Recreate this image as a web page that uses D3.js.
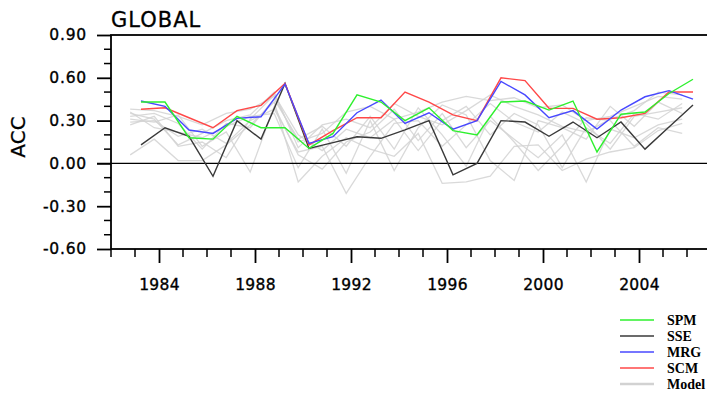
<!DOCTYPE html>
<html>
<head>
<meta charset="utf-8">
<script src="https://cdn.jsdelivr.net/npm/d3@7"></script>
<style>
  html, body { margin: 0; padding: 0; background: #fff; }
  svg { display: block; }
  text { font-family: "DejaVu Sans", "Liberation Sans", Arial, sans-serif; fill: #000; }
  .legend text { font-family: "Liberation Serif", "Times New Roman", serif; }
</style>
</head>
<body>
<svg id="chart" width="707" height="395"></svg>
<script>
// Anomaly correlation (ACC) of global forecasts, 1983–2006
const years = d3.range(1983, 2007);

const spm = [0.43, 0.43, 0.18, 0.17, 0.33, 0.25, 0.25, 0.105, 0.21, 0.48, 0.43, 0.30,
             0.39, 0.23, 0.20, 0.43, 0.437, 0.374, 0.437, 0.08, 0.345, 0.36, 0.49, 0.59];
const sse = [0.13, 0.25, 0.19, -0.09, 0.30, 0.17, 0.56, 0.105, 0.146, 0.187, 0.176, 0.235,
             0.30, -0.08, 0.00, 0.30, 0.29, 0.19, 0.29, 0.18, 0.29, 0.10, 0.255, 0.41];
const mrg = [0.437, 0.40, 0.234, 0.21, 0.316, 0.327, 0.556, 0.14, 0.187, 0.355, 0.444, 0.28,
             0.355, 0.24, 0.30, 0.575, 0.48, 0.32, 0.37, 0.24, 0.374, 0.467, 0.51, 0.45];
const scm = [0.38, 0.39, 0.32, 0.25, 0.37, 0.407, 0.56, 0.13, 0.23, 0.32, 0.32, 0.50,
             0.43, 0.34, 0.30, 0.60, 0.58, 0.386, 0.386, 0.31, 0.32, 0.35, 0.50, 0.50];

// individual ensemble models
const model1 = [0.38, 0.37, 0.33, 0.27, 0.35, 0.38, 0.47, 0.15, 0.21, 0.36, 0.40, 0.31,
                0.36, 0.43, 0.47, 0.44, 0.46, 0.39, 0.41, 0.30, 0.33, 0.40, 0.47, 0.45];
const model2 = [0.35, 0.31, 0.13, 0.21, 0.30, 0.34, 0.50, 0.11, 0.27, 0.31, 0.25, 0.42,
                0.33, 0.27, 0.37, 0.48, 0.40, 0.34, 0.26, 0.22, 0.31, 0.37, 0.50, 0.48];
const model3 = [0.06, 0.17, 0.02, 0.02, 0.13, 0.27, 0.43, -0.13, 0.05, 0.18, 0.10, 0.05,
                0.21, -0.14, -0.13, -0.09, 0.12, 0.13, -0.05, 0.03, 0.08, 0.11, 0.23, 0.28];
const model4 = [0.31, 0.29, 0.34, 0.12, 0.22, -0.06, 0.40, 0.06, -0.04, 0.15, 0.22, 0.38,
                0.16, 0.35, 0.11, 0.30, 0.17, 0.04, 0.20, -0.13, 0.24, 0.18, 0.27, 0.31];
const model5 = [0.29, 0.30, 0.19, 0.24, 0.14, 0.30, 0.38, 0.08, 0.12, -0.21, 0.05, 0.28,
                0.30, 0.12, 0.27, 0.42, 0.29, 0.22, 0.36, 0.28, 0.10, 0.33, 0.36, 0.39];
const model6 = [0.33, 0.35, 0.28, 0.10, 0.28, 0.25, 0.45, 0.17, 0.26, 0.12, 0.33, 0.10,
                0.39, 0.20, -0.02, 0.33, 0.15, -0.05, 0.12, 0.32, 0.30, 0.12, 0.25, 0.21];
const model7 = [0.36, 0.25, 0.22, 0.18, 0.26, 0.33, 0.35, -0.03, 0.24, -0.07, 0.30, -0.05,
                0.25, 0.41, 0.34, 0.02, -0.12, 0.30, 0.25, 0.17, 0.40, 0.26, 0.43, 0.35];
const model8 = [0.27, 0.33, 0.12, 0.15, 0.04, 0.31, 0.48, 0.20, 0.09, 0.24, 0.18, 0.31,
                0.09, 0.30, 0.40, 0.20, 0.35, 0.27, -0.03, 0.25, 0.14, 0.35, 0.31, 0.42];
const models = [model1, model2, model3, model4, model5, model6, model7, model8];

const yTicks = [-0.6, -0.3, 0.0, 0.3, 0.6, 0.9];
const xTicks = [1984, 1988, 1992, 1996, 2000, 2004];
const legendNames = ["SPM", "SSE", "MRG", "SCM", "Model"];

// forecasts are valid for the season, plotted a quarter into the year
const seasonMid = 0.25;

const svg = d3.select("#chart");
const margin = { left: 111, top: 35 };
const plotW = 600, plotH = 214;

const x = d3.scaleLinear().domain([1982, 2007]).range([margin.left, margin.left + plotW]);
const y = d3.scaleLinear().domain([-0.6, 0.9]).range([margin.top + plotH, margin.top]);

const colors = { SPM: "#2ef02e", SSE: "#3a3a3a", MRG: "#4848ff", SCM: "#ff4848", Model: "#d2d2d2" };

const g = svg.append("g");

// model spaghetti
const modelLine = d3.line().x((d, i) => x(years[i] - 0.2)).y(d => y(d));
g.append("g").selectAll("path").data(models).join("path")
  .attr("d", modelLine)
  .attr("fill", "none")
  .attr("stroke", colors.Model)
  .attr("stroke-width", 1.3)
  .attr("opacity", 0.85);

// zero reference line
g.append("line")
  .attr("x1", margin.left - 14).attr("x2", margin.left + plotW)
  .attr("y1", y(0)).attr("y2", y(0))
  .attr("stroke", "#000").attr("stroke-width", 1.3);

// main series, drawn so SPM ends on top
const seriesLine = d3.line().x((d, i) => x(years[i] + seasonMid)).y(d => y(d));
const series = [
  { name: "SSE", values: sse },
  { name: "SCM", values: scm },
  { name: "MRG", values: mrg },
  { name: "SPM", values: spm }
];
g.append("g").selectAll("path").data(series).join("path")
  .attr("d", d => seriesLine(d.values))
  .attr("fill", "none")
  .attr("stroke", d => colors[d.name])
  .attr("stroke-width", 1.4)
  .attr("stroke-linejoin", "miter");

// frame
g.append("rect")
  .attr("x", margin.left).attr("y", margin.top)
  .attr("width", plotW).attr("height", plotH)
  .attr("fill", "none").attr("stroke", "#000").attr("stroke-width", 1.8);

const tickFont = "'DejaVu Sans', 'Liberation Sans', sans-serif";
const fmt2 = v => d3.format(".2f")(v).replace("\u2212", "-");

// y axis: major ticks outward, minor ticks every 0.1
const yAxis = d3.axisLeft(y).tickValues(yTicks).tickFormat(fmt2)
  .tickSize(14).tickPadding(10);
const ya = g.append("g").attr("transform", `translate(${margin.left},0)`).call(yAxis);
ya.select(".domain").remove();
ya.selectAll(".tick line").attr("stroke-width", 1.8);
ya.selectAll("text")
  .attr("font-size", 15.5).attr("fill", "#000")
  .attr("stroke", "#000").attr("stroke-width", 0.35)
  .style("font-family", tickFont).style("letter-spacing", "0.8px");

const yMinor = d3.range(-6, 10).map(v => v / 10).filter(v => !yTicks.some(t => Math.abs(t - v) < 1e-9));
g.append("g").selectAll("line").data(yMinor).join("line")
  .attr("x1", margin.left - 7).attr("x2", margin.left)
  .attr("y1", d => y(d)).attr("y2", d => y(d))
  .attr("stroke", "#000").attr("stroke-width", 1.5);

// x axis
const xAxis = d3.axisBottom(x).tickValues(xTicks).tickFormat(d3.format("d"))
  .tickSize(14).tickPadding(16);
const xa = g.append("g").attr("transform", `translate(0,${margin.top + plotH})`).call(xAxis);
xa.select(".domain").remove();
xa.selectAll(".tick line").attr("stroke-width", 1.8);
xa.selectAll("text")
  .attr("font-size", 15.5).attr("fill", "#000")
  .attr("stroke", "#000").attr("stroke-width", 0.35)
  .style("font-family", tickFont).style("letter-spacing", "0.3px");

const xMinor = d3.range(1982, 2008).filter(v => !xTicks.includes(v));
g.append("g").selectAll("line").data(xMinor).join("line")
  .attr("x1", d => x(d)).attr("x2", d => x(d))
  .attr("y1", margin.top + plotH).attr("y2", margin.top + plotH + 8)
  .attr("stroke", "#000").attr("stroke-width", 1.5);

// titles
svg.append("text")
  .attr("x", margin.left).attr("y", 27)
  .attr("font-size", 21)
  .attr("stroke", "#000").attr("stroke-width", 0.3)
  .style("letter-spacing", "1px")
  .text("GLOBAL");

svg.append("text")
  .attr("transform", `translate(25,${margin.top + plotH / 2 - 5}) rotate(-90)`)
  .attr("text-anchor", "middle")
  .attr("font-size", 20)
  .attr("stroke", "#000").attr("stroke-width", 0.3)
  .text("ACC");

// legend
const legend = svg.append("g").attr("class", "legend")
  .attr("transform", "translate(620,320)");
const rows = legend.selectAll("g").data(legendNames).join("g")
  .attr("transform", (d, i) => `translate(0,${i * 16})`);
rows.append("line")
  .attr("x1", 0).attr("x2", 34).attr("y1", 0).attr("y2", 0)
  .attr("stroke", d => colors[d])
  .attr("stroke-width", d => d === "Model" ? 2.6 : 1.6);
rows.append("text")
  .attr("x", 47).attr("y", 4.5)
  .attr("font-size", 14)
  .attr("font-weight", "bold")
  .text(d => d);
</script>
</body>
</html>
